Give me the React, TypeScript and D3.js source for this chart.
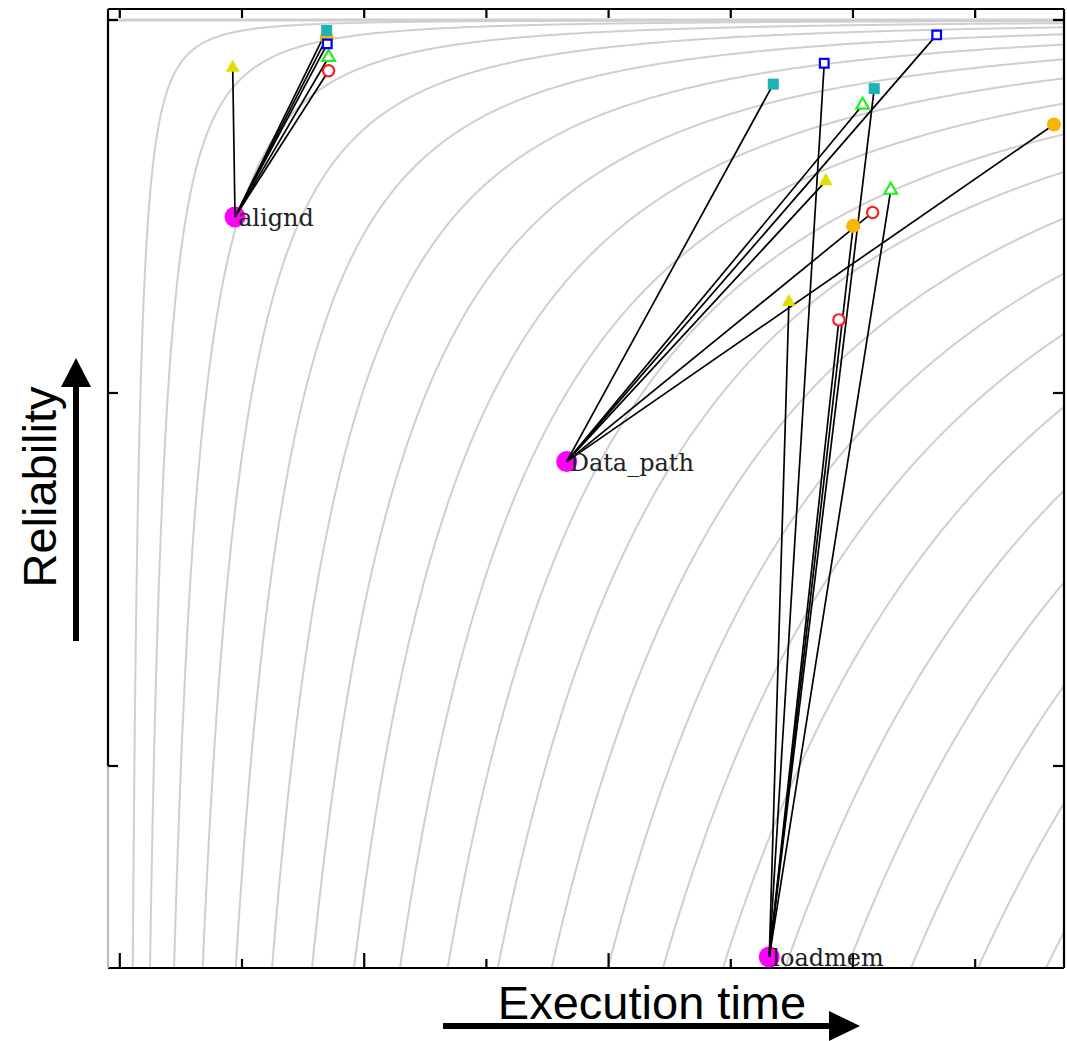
import React from 'react';
import * as d3 from 'd3';

const W = 1067;
const H = 1041;
const plot = { left: 108, right: 1064, top: 9, bottom: 968 };

// axis ticks (no labels in the original)
const xTicks = [0, 1, 2, 3, 4, 5, 6, 7];
const yTicks = [0.5, 0.75, 1.0];

// iso-curves: execution time where each curve meets the bottom of the plot
const contourBottoms = [
  0.106, 0.247, 0.444, 0.678, 0.949, 1.246, 1.573, 1.917, 2.293, 2.683,
  3.093, 3.534, 3.995, 4.445, 4.936, 5.444, 5.951, 6.475, 7.023, 7.579,
];

// original (unprotected) components
const components = ['alignd', 'Data_path', 'loadmem'];
const baseTime = [0.943, 3.657, 5.315];
const baseRel = [0.868, 0.704, 0.372];

// hardened variants, one value per component
const yellowTime = [0.924, 5.777, 5.476];
const yellowRel = [0.968, 0.892, 0.811];
const cyanTime = [1.693, 5.348, 6.174];
const cyanRel = [0.993, 0.957, 0.954];
const orangeTime = [1.693, 7.645, 6.002];
const orangeRel = [0.988, 0.930, 0.862];
const blueTime = [1.698, 6.685, 5.765];
const blueRel = [0.984, 0.990, 0.971];
const greenTime = [1.709, 6.079, 6.309];
const greenRel = [0.975, 0.943, 0.886];
const redTime = [1.709, 6.161, 5.885];
const redRel = [0.966, 0.871, 0.799];

const series = [
  { time: orangeTime, rel: orangeRel, shape: d3.symbolCircle, size: 155, color: '#f7b500', filled: true },
  { time: redTime, rel: redRel, shape: d3.symbolCircle, size: 100, color: '#ff2020', filled: false },
  { time: greenTime, rel: greenRel, shape: d3.symbolTriangle, size: 70, color: '#22ee22', filled: false },
  { time: yellowTime, rel: yellowRel, shape: d3.symbolTriangle, size: 85, color: '#dede00', filled: true },
  { time: cyanTime, rel: cyanRel, shape: d3.symbolSquare, size: 121, color: '#1db3b3', filled: true },
  { time: blueTime, rel: blueRel, shape: d3.symbolSquare, size: 75, color: '#0000ff', filled: false },
];

export default function App() {
  const x = d3.scaleLinear().domain([-0.0966, 7.727]).range([plot.left, plot.right]);
  const y = d3.scaleLinear().domain([0.3646, 1.00737]).range([plot.bottom, plot.top]);

  const line = d3.line<[number, number]>().x(d => x(d[0])).y(d => y(d[1]));
  const rBottom = y.domain()[0];
  const tMax = x.domain()[1] + 0.3;

  // t^2 * (1 - R) is constant along each curve
  const contour = (tb: number) => {
    const vb = 1 - rBottom;
    const n = 400;
    const pts = d3.range(n + 1).map(i => {
      const t = tb * Math.pow(tMax / tb, i / n);
      return [t, 1 - vb * (tb / t) ** 2] as [number, number];
    });
    return line(pts) || '';
  };

  return (
    <svg width={W} height={H} style={{ position: 'absolute', left: 0, top: 0, background: '#fff' }}>
      <defs>
        <clipPath id="plotClip">
          <rect x={plot.left} y={plot.top} width={plot.right - plot.left} height={plot.bottom - plot.top} />
        </clipPath>
      </defs>

      <g clipPath="url(#plotClip)" fill="none" stroke="#cfcfcf" strokeWidth={2}>
        {contourBottoms.map((tb, i) => <path key={i} d={contour(tb)} />)}
        <line x1={plot.left} x2={plot.right} y1={y(1)} y2={y(1)} strokeWidth={3} />
      </g>

      {/* frame */}
      <g stroke="#000" strokeWidth={2.2} fill="none">
        <line x1={plot.left} x2={plot.right} y1={plot.top} y2={plot.top} />
        <line x1={plot.left} x2={plot.right} y1={plot.bottom} y2={plot.bottom} />
        <line x1={plot.right} x2={plot.right} y1={plot.top} y2={plot.bottom} />
        <line x1={plot.left} x2={plot.left} y1={plot.top} y2={y(0.5)} />
        <line x1={plot.left} x2={plot.left} y1={y(0.5)} y2={plot.bottom} stroke="#bbb" />
        {xTicks.map(t => (
          <g key={t}>
            <line x1={x(t)} x2={x(t)} y1={plot.bottom} y2={plot.bottom - (t % 2 === 0 ? 15 : 9)} />
            <line x1={x(t)} x2={x(t)} y1={plot.top} y2={plot.top + 9} />
          </g>
        ))}
        {yTicks.map(r => (
          <g key={r}>
            <line x1={plot.left} x2={plot.left + 10} y1={y(r)} y2={y(r)} />
            <line x1={plot.right} x2={plot.right - 11} y1={y(r)} y2={y(r)} />
          </g>
        ))}
      </g>

      {/* original components */}
      {components.map((c, i) => (
        <circle key={c} cx={x(baseTime[i])} cy={y(baseRel[i])} r={10.5} fill="#ff00ff" />
      ))}

      {/* moves from the original to each variant */}
      <g stroke="#000" strokeWidth={1.7}>
        {series.map((s, si) =>
          components.map((c, i) => (
            <line key={si + c} x1={x(baseTime[i])} y1={y(baseRel[i])} x2={x(s.time[i])} y2={y(s.rel[i])} />
          ))
        )}
      </g>

      {series.map((s, si) => {
        const d = d3.symbol().type(s.shape).size(s.size)() || '';
        return components.map((c, i) => (
          <path
            key={si + c}
            d={d}
            transform={`translate(${x(s.time[i])},${y(s.rel[i])})`}
            fill={s.filled ? s.color : '#fff'}
            stroke={s.color}
            strokeWidth={s.filled ? 0 : 2.2}
          />
        ));
      })}

      {components.map((c, i) => (
        <text key={c} x={x(baseTime[i]) + 3} y={y(baseRel[i]) + 9} fontFamily="DejaVu Serif" fontSize={24} fill="#222">
          {c}
        </text>
      ))}

      {/* axis titles with arrows */}
      <text
        transform="translate(56,487) rotate(-90)"
        textAnchor="middle"
        fontFamily="Liberation Sans, Arial, sans-serif"
        fontSize={47}
        fill="#000"
      >
        Reliability
      </text>
      <line x1={76} x2={76} y1={641} y2={384} stroke="#000" strokeWidth={6} />
      <path d="M76,358 L91,387 L61,387 Z" fill="#000" />

      <text x={652} y={1019} textAnchor="middle" fontFamily="Liberation Sans, Arial, sans-serif" fontSize={47} fill="#000">
        Execution time
      </text>
      <line x1={443} x2={832} y1={1026} y2={1026} stroke="#000" strokeWidth={6} />
      <path d="M860,1026 L829,1011 L829,1041 Z" fill="#000" />
    </svg>
  );
}
